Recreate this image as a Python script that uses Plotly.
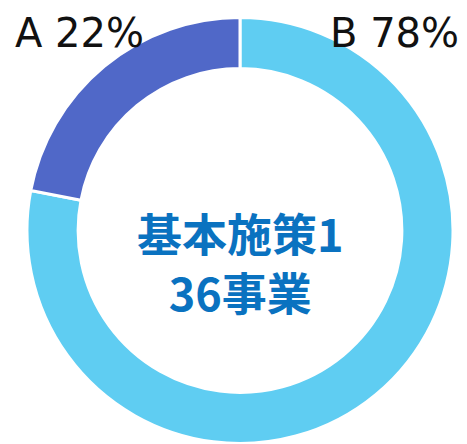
import plotly.graph_objects as go

labels = ["B", "A"]
values = [78, 22]
colors = ["#5FCDF2", "#5068C8"]
center_lines = ["基本施策1", "36事業"]

# page body has an 8px default margin; the figure is sized to fit the window
W, H = 459, 436
cx, cy, R = 232, 222.5, 213

fig = go.Figure(go.Pie(
    labels=labels,
    values=values,
    sort=False,
    direction="clockwise",
    rotation=0,
    hole=0.76,
    marker=dict(colors=colors, line=dict(color="white", width=3)),
    textinfo="none",
    hoverinfo="label+percent",
    showlegend=False,
    domain=dict(x=[(cx - R) / W, (cx + R) / W], y=[(H - cy - R) / H, (H - cy + R) / H]),
))

total = sum(values)
label_pos = {"A": (5, 25, "left"), "B": (453, 25, "right")}
for lab, val in zip(labels, values):
    px, py, anchor = label_pos[lab]
    fig.add_annotation(
        x=px / W, y=1 - py / H, xref="paper", yref="paper",
        xanchor=anchor, yanchor="middle", showarrow=False,
        text=f"{lab} {round(100 * val / total)}%",
        font=dict(family="DejaVu Sans", size=40, color="#111111"),
    )

fig.add_annotation(
    x=cx / W, y=1 - 253.5 / H, xref="paper", yref="paper",
    xanchor="center", yanchor="middle", showarrow=False,
    text="<b>" + "<br>".join(center_lines) + "</b>",
    font=dict(family="Noto Sans CJK JP", size=45, color="#0A72C0"),
)

fig.update_layout(
    width=W, height=H,
    margin=dict(l=0, r=0, t=0, b=0),
    paper_bgcolor="white", plot_bgcolor="white",
)

fig.write_html("out.html")
